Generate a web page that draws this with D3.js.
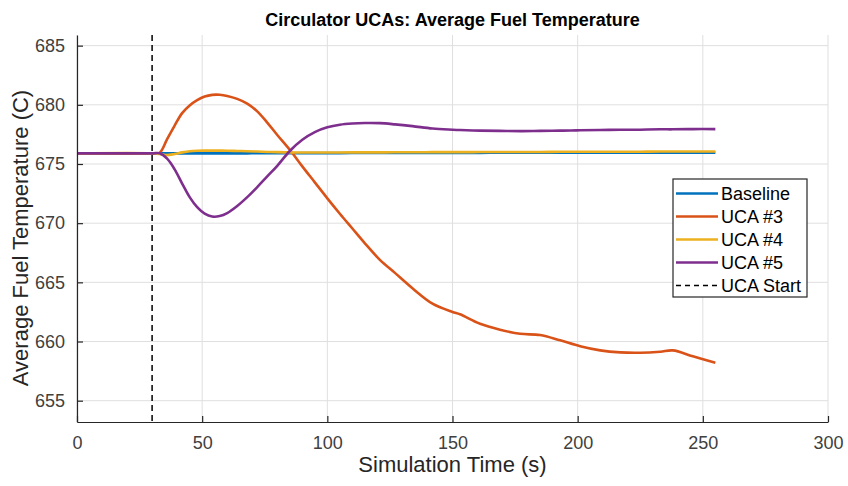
<!DOCTYPE html>
<html>
<head>
<meta charset="utf-8">
<script src="https://cdn.jsdelivr.net/npm/d3@7"></script>
<style>
  body { margin: 0; background: #fff; }
  svg { font-family: "Liberation Sans", Arial, sans-serif; }
  .grid line { stroke: #dfdfdf; stroke-width: 1; }
  .axis path, .axis line { stroke: #262626; stroke-width: 1.2; }
  .axis text { fill: #404040; font-size: 18px; }
</style>
</head>
<body>
<div id="chart"></div>
<script>
// time points (s)
var time = [0, 30, 33, 36, 39, 42, 45, 48, 51, 54, 57, 60, 64, 68, 72, 76, 80, 85, 90, 95,
            100, 105, 110, 115, 121, 127, 134, 142, 150, 153, 161, 169, 177, 185, 193, 201,
            209, 217, 225, 233, 238, 246, 255];

var baseline = [675.9, 675.9, 675.9, 675.9, 675.9, 675.9, 675.9, 675.9, 675.9, 675.9, 675.9, 675.9,
                675.9, 675.9, 675.91, 675.91, 675.91, 675.91, 675.92, 675.92, 675.92, 675.92,
                675.93, 675.93, 675.93, 675.93, 675.94, 675.94, 675.94, 675.94, 675.94, 675.95,
                675.95, 675.95, 675.95, 675.95, 675.95, 675.96, 675.96, 675.96, 675.96, 675.96, 675.96];

var uca3 = [675.9, 675.9, 675.95, 677.1, 678.25, 679.3, 679.95, 680.4, 680.7, 680.84, 680.85, 680.75,
            680.5, 680.1, 679.45, 678.5, 677.45, 676.2, 674.8, 673.45, 672.1, 670.8, 669.55, 668.3,
            666.9, 665.8, 664.5, 663.2, 662.5, 662.3, 661.5, 661.0, 660.65, 660.55, 660.1, 659.6,
            659.25, 659.08, 659.05, 659.14, 659.25, 658.75, 658.2];

var uca4 = [675.9, 675.9, 675.85, 675.75, 675.85, 675.98, 676.08, 676.12, 676.13, 676.13, 676.13, 676.12,
            676.1, 676.08, 676.05, 676.02, 676.0, 675.98, 675.97, 675.97, 675.97, 675.97, 675.98,
            675.98, 675.98, 675.99, 675.99, 676.0, 676.0, 676.0, 676.01, 676.01, 676.02, 676.02,
            676.03, 676.03, 676.03, 676.04, 676.04, 676.05, 676.05, 676.06, 676.06];

var uca5 = [675.9, 675.9, 675.9, 675.45, 674.55, 673.35, 672.2, 671.35, 670.8, 670.56, 670.6, 670.85,
            671.45, 672.2, 673.05, 673.95, 674.85, 676.1, 677.05, 677.7, 678.1, 678.32, 678.42, 678.46,
            678.45, 678.35, 678.2, 678.0, 677.9, 677.87, 677.82, 677.8, 677.78, 677.8, 677.82,
            677.85, 677.87, 677.9, 677.9, 677.93, 677.93, 677.95, 677.95];

var ucaStart = 30;

var seriesNames = ["Baseline", "UCA #3", "UCA #4", "UCA #5"];
var seriesColors = ["#0072BD", "#D95319", "#EDB120", "#7E2F8E"];
var seriesValues = [baseline, uca3, uca4, uca5];

var xTicks = [0, 50, 100, 150, 200, 250, 300];
var yTicks = [655, 660, 665, 670, 675, 680, 685];

var margin = {top: 35, right: 20, bottom: 64, left: 77},
    width = 848 - margin.left - margin.right,
    height = 486 - margin.top - margin.bottom;

var x = d3.scaleLinear().domain([0, 300]).range([0, width]);
var y = d3.scaleLinear().domain([653.2, 685.9]).range([height, 0]);

var svg = d3.select("#chart").append("svg")
    .attr("width", 848)
    .attr("height", 486);

var g = svg.append("g")
    .attr("transform", "translate(" + margin.left + "," + margin.top + ")");

// grid
g.append("g").attr("class", "grid")
  .selectAll("line").data(xTicks).enter().append("line")
    .attr("x1", function(d) { return x(d); })
    .attr("x2", function(d) { return x(d); })
    .attr("y1", 0).attr("y2", height);

g.append("g").attr("class", "grid")
  .selectAll("line").data(yTicks).enter().append("line")
    .attr("y1", function(d) { return y(d); })
    .attr("y2", function(d) { return y(d); })
    .attr("x1", 0).attr("x2", width);

// series
var line = d3.line()
    .x(function(d, i) { return x(time[i]); })
    .y(function(d) { return y(d); })
    .curve(d3.curveCatmullRom.alpha(0.5));

seriesValues.forEach(function(vals, k) {
  g.append("path")
    .datum(vals)
    .attr("fill", "none")
    .attr("stroke", seriesColors[k])
    .attr("stroke-width", 2.6)
    .attr("stroke-linejoin", "round")
    .attr("d", line);
});

// UCA start marker
g.append("line")
    .attr("x1", x(ucaStart)).attr("x2", x(ucaStart))
    .attr("y1", 0).attr("y2", height)
    .attr("stroke", "#000")
    .attr("stroke-width", 1.5)
    .attr("stroke-dasharray", "6,4");

// axes (ticks point inward)
var xAxis = d3.axisBottom(x).tickValues(xTicks).tickSizeInner(-6).tickSizeOuter(0).tickPadding(14);
var yAxis = d3.axisLeft(y).tickValues(yTicks).tickSizeInner(-6).tickSizeOuter(0).tickPadding(12);

g.append("g")
    .attr("class", "axis x-axis")
    .attr("transform", "translate(0," + height + ")")
    .call(xAxis);

g.append("g")
    .attr("class", "axis y-axis")
    .call(yAxis);

// titles
svg.append("text")
    .attr("x", margin.left + width / 2)
    .attr("y", 26)
    .attr("text-anchor", "middle")
    .style("font-weight", "bold")
    .style("font-size", "18px")
    .attr("fill", "#000")
    .text("Circulator UCAs: Average Fuel Temperature");

svg.append("text")
    .attr("x", margin.left + width / 2)
    .attr("y", 472)
    .attr("text-anchor", "middle")
    .style("font-size", "22px")
    .attr("fill", "#262626")
    .text("Simulation Time (s)");

svg.append("text")
    .attr("transform", "translate(28,238) rotate(-90)")
    .attr("text-anchor", "middle")
    .style("font-size", "22px")
    .attr("fill", "#262626")
    .text("Average Fuel Temperature (C)");

// legend
var legendItems = seriesNames.map(function(n, i) {
  return {name: n, color: seriesColors[i], dash: null};
});
legendItems.push({name: "UCA Start", color: "#000", dash: "5,4"});

var legend = svg.append("g").attr("transform", "translate(673,179)");
legend.append("rect")
    .attr("width", 134).attr("height", 118)
    .attr("fill", "#fff")
    .attr("stroke", "#262626")
    .attr("stroke-width", 1.2);

var li = legend.selectAll(".li").data(legendItems).enter().append("g")
    .attr("transform", function(d, i) { return "translate(0," + (14.5 + i * 23) + ")"; });

li.append("line")
    .attr("x1", 3).attr("x2", 45)
    .attr("stroke", function(d) { return d.color; })
    .attr("stroke-width", function(d) { return d.dash ? 1.5 : 2.6; })
    .attr("stroke-dasharray", function(d) { return d.dash; });

li.append("text")
    .attr("x", 48)
    .attr("dy", "0.35em")
    .style("font-size", "18px")
    .attr("fill", "#000")
    .text(function(d) { return d.name; });
</script>
</body>
</html>
